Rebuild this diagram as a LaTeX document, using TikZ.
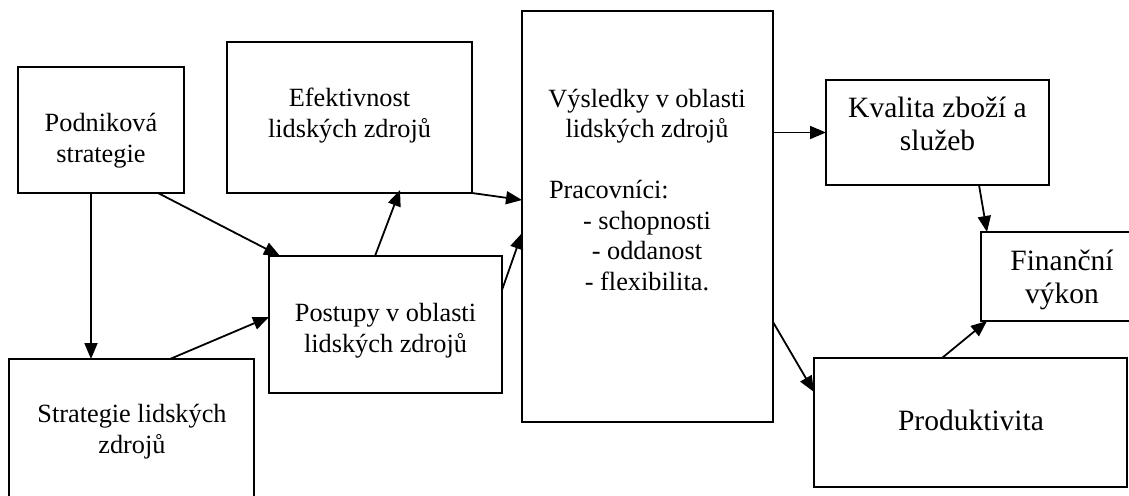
\documentclass[tikz,border=0pt]{standalone}
\usepackage{fontspec}
\setmainfont{Liberation Serif}
\usetikzlibrary{arrows.meta,calc}
\begin{document}
\begin{tikzpicture}[x=1pt,y=-1pt,
  box/.style={draw, line width=1.8pt, inner sep=0pt, outer sep=0pt},
  lbl/.style={align=center, inner sep=0pt, font=\fontsize{26.3}{30.5}\selectfont},
  lblbig/.style={align=center, inner sep=0pt, font=\fontsize{29.5}{33}\selectfont},
  conn/.style={line width=1.8pt, -{Triangle[length=16pt,width=13pt]}}]
\useasboundingbox (0,0) rectangle (1129,495);
\clip (0,0) rectangle (1129,495);
% boxes
\node[box, minimum width=166pt, minimum height=126pt] (podn) at (101,130) {};
\node[box, minimum width=245pt, minimum height=151pt] (efekt) at (349.5,117.5) {};
\node[box, minimum width=233pt, minimum height=137pt] (post) at (385.5,324.5) {};
\node[box, minimum width=245pt, minimum height=161pt] (strat) at (131.5,439.5) {};
\node[box, minimum width=251pt, minimum height=411pt] (vys) at (647.5,216.5) {};
\node[box, minimum width=223pt, minimum height=105pt] (kval) at (937.5,132.5) {};
\node[box, minimum width=169pt, minimum height=89pt] (fin) at (1065.5,276.5) {};
\node[box, minimum width=313pt, minimum height=129pt] (prod) at (970.5,422.5) {};
% texts
\node[lbl] (tpodn) at (101,140.7) {\strut Podniková\\strategie\strut};
\node[lbl] (tefekt) at (349.5,116) {\strut Efektivnost\\lidských zdrojů\strut};
\node[lbl] (tpost) at (385.5,331) {\strut Postupy v oblasti\\lidských zdrojů\strut};
\node[lbl] (tstrat) at (132,432) {\strut Strategie lidských\\zdrojů\strut};
\node[lbl] (tvys) at (647,192.4) {\strut Výsledky v oblasti\\lidských zdrojů\\\strut\\\makebox[196pt][l]{Pracovníci:}\\- schopnosti\\- oddanost\\- flexibilita.\strut};
\node[lblbig] (tkval) at (937.5,126.9) {\strut Kvalita zboží a\\služeb\strut};
\node[lblbig] (tfin) at (1062,280) {\strut Finanční\\výkon\strut};
\node[lblbig, anchor=base] (tprod) at (971,430) {Produktivita};
% connectors
\draw[conn] ([xshift=-10pt]podn.south) -- ([xshift=-40.5pt]strat.north);
\draw[conn] ([xshift=57pt]podn.south) -- ([xshift=11pt]post.north west);
\draw[conn] ([xshift=38.5pt]strat.north) -- ([yshift=7.5pt]post.west);
\draw[conn] ([xshift=-10.5pt]post.north) -- ([xshift=50.5pt,yshift=3pt]efekt.south);
\draw[conn] (efekt.south east) -- ([yshift=16.5pt]vys.west);
\draw[conn] ([yshift=34.5pt]post.east) -- ([yshift=-16.5pt]vys.west);
\draw[conn] ([yshift=84pt]vys.east) -- (kval.west);
\draw[conn] ([xshift=41.5pt]kval.south) -- ([xshift=-78.5pt]fin.north);
\draw[conn] ([yshift=-105.5pt]vys.east) -- ([yshift=30.5pt]prod.west);
\draw[conn] ([xshift=-28.5pt]prod.north) -- ([xshift=-78.5pt]fin.south);
\end{tikzpicture}
\end{document}
